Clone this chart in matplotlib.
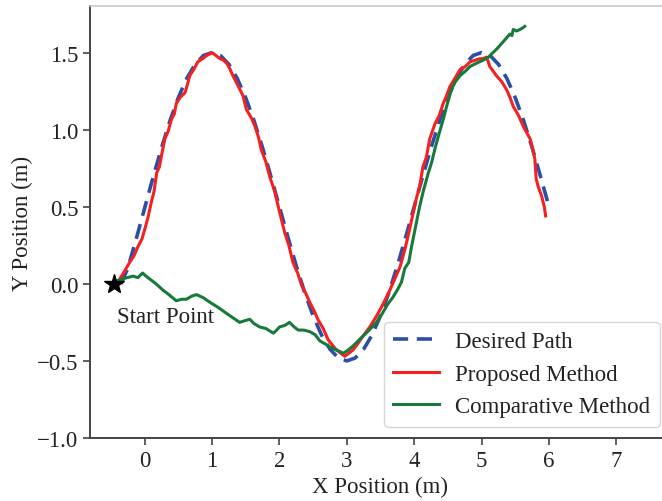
import matplotlib
matplotlib.use("Agg")
import matplotlib.pyplot as plt

# Desired path
desired_x = [-0.35, -0.25, -0.125, 0.0, 0.125, 0.25, 0.375, 0.5, 0.625, 0.75, 0.875, 1.0,
             1.125, 1.25, 1.375, 1.5, 1.625, 1.75, 1.875, 2.0, 2.125, 2.25, 2.375, 2.5,
             2.625, 2.75, 2.875, 3.0, 3.125, 3.25, 3.375, 3.5, 3.625, 3.75, 3.875, 4.0,
             4.125, 4.25, 4.375, 4.5, 4.625, 4.75, 4.875, 5.0, 5.125, 5.25, 5.375, 5.5,
             5.625, 5.75, 5.875, 6.0]
desired_y = [0.0, 0.10, 0.29, 0.49, 0.69, 0.88, 1.056, 1.207, 1.332, 1.424, 1.481, 1.5,
             1.481, 1.424, 1.332, 1.207, 1.056, 0.883, 0.695, 0.5, 0.305, 0.117, -0.056, -0.207,
             -0.332, -0.424, -0.481, -0.5, -0.481, -0.424, -0.332, -0.207, -0.056, 0.117, 0.305, 0.5,
             0.695, 0.883, 1.056, 1.207, 1.332, 1.424, 1.481, 1.5, 1.481, 1.424, 1.332, 1.207,
             1.056, 0.883, 0.695, 0.5]

# Proposed method
proposed_x = [-0.45, -0.37, -0.30, -0.22, -0.16, -0.10, -0.04, 0.0, 0.05, 0.10, 0.14, 0.18, 0.22,
              0.25, 0.30, 0.35, 0.40, 0.44, 0.47, 0.53, 0.60, 0.64, 0.67, 0.73, 0.79, 0.86,
              0.92, 1.0, 1.06, 1.12, 1.17, 1.22, 1.27, 1.31, 1.38, 1.46, 1.51, 1.58, 1.64,
              1.69, 1.73, 1.80, 1.86, 1.93, 2.0, 2.08, 2.14, 2.20, 2.27, 2.33, 2.39, 2.45,
              2.51, 2.57, 2.65, 2.72, 2.79, 2.85, 2.91, 2.97, 3.03, 3.09, 3.16, 3.24, 3.34,
              3.44, 3.54, 3.64, 3.72, 3.79, 3.86, 3.93, 3.98, 4.03, 4.08, 4.13, 4.18, 4.23,
              4.31, 4.37, 4.43, 4.48, 4.53, 4.60, 4.68, 4.76, 4.83, 4.90, 4.97, 5.02, 5.07,
              5.10, 5.12, 5.17, 5.22, 5.30, 5.37, 5.42, 5.47, 5.55, 5.62, 5.67, 5.72, 5.76,
              5.79, 5.81, 5.84, 5.89, 5.93, 5.95]
proposed_y = [0.0, 0.03, 0.08, 0.14, 0.18, 0.24, 0.29, 0.35, 0.43, 0.53, 0.60, 0.72, 0.76,
              0.83, 0.94, 0.99, 1.07, 1.10, 1.17, 1.21, 1.24, 1.30, 1.35, 1.39, 1.44, 1.46,
              1.48, 1.50, 1.48, 1.46, 1.45, 1.43, 1.39, 1.35, 1.29, 1.22, 1.13, 1.08, 1.02,
              0.95, 0.87, 0.79, 0.69, 0.60, 0.47, 0.33, 0.25, 0.14, 0.07, -0.01, -0.06, -0.12,
              -0.17, -0.23, -0.29, -0.36, -0.40, -0.43, -0.45, -0.47, -0.45, -0.43, -0.39, -0.34, -0.28,
              -0.21, -0.13, -0.04, 0.04, 0.11, 0.22, 0.35, 0.45, 0.55, 0.63, 0.76, 0.82, 0.94,
              1.04, 1.09, 1.17, 1.22, 1.28, 1.33, 1.39, 1.41, 1.44, 1.45, 1.46, 1.46, 1.47,
              1.44, 1.41, 1.38, 1.35, 1.31, 1.26, 1.21, 1.15, 1.09, 1.02, 0.98, 0.94, 0.87,
              0.81, 0.68, 0.63, 0.57, 0.50, 0.44]

# Comparative method
comparative_x = [-0.45, -0.40, -0.34, -0.26, -0.17, -0.10, -0.03, 0.02, 0.08, 0.17, 0.27, 0.36,
                 0.47, 0.55, 0.62, 0.70, 0.77, 0.87, 0.97, 1.08, 1.21, 1.31, 1.41, 1.48, 1.56,
                 1.63, 1.71, 1.80, 1.91, 1.96, 2.0, 2.08, 2.15, 2.22, 2.28, 2.36, 2.45, 2.53,
                 2.60, 2.68, 2.75, 2.85, 2.95, 3.02, 3.10, 3.19, 3.31, 3.44, 3.53, 3.61, 3.68,
                 3.75, 3.81, 3.86, 3.92, 3.96, 4.02, 4.08, 4.14, 4.21, 4.26, 4.31, 4.36, 4.40,
                 4.44, 4.48, 4.52, 4.55, 4.61, 4.68, 4.76, 4.83, 4.92, 5.02, 5.10, 5.17, 5.24,
                 5.30, 5.36, 5.42, 5.45, 5.47, 5.52, 5.57, 5.61, 5.64]
comparative_y = [0.0, 0.02, 0.03, 0.04, 0.05, 0.04, 0.07, 0.05, 0.03, 0.0, -0.04, -0.07,
                 -0.11, -0.10, -0.10, -0.08, -0.07, -0.09, -0.12, -0.15, -0.19, -0.22, -0.25, -0.24, -0.23,
                 -0.26, -0.28, -0.29, -0.32, -0.30, -0.28, -0.27, -0.25, -0.28, -0.30, -0.30, -0.31, -0.33,
                 -0.37, -0.39, -0.41, -0.43, -0.45, -0.43, -0.40, -0.36, -0.31, -0.25, -0.19, -0.13, -0.09,
                 -0.04, 0.01, 0.10, 0.14, 0.24, 0.37, 0.50, 0.61, 0.72, 0.79, 0.88, 0.96, 1.02,
                 1.08, 1.15, 1.21, 1.26, 1.31, 1.35, 1.38, 1.41, 1.43, 1.45, 1.47, 1.50, 1.53,
                 1.56, 1.59, 1.62, 1.61, 1.65, 1.64, 1.65, 1.66, 1.67]

start_x = [-0.45]
start_y = [0.0]

xticks = [0, 1, 2, 3, 4, 5, 6, 7]
yticks = [-1.0, -0.5, 0.0, 0.5, 1.0, 1.5]

plt.rcParams['font.family'] = ['Liberation Serif', 'DejaVu Serif']
FS = 16.5

fig = plt.figure(figsize=(6.62, 5.02), dpi=100)
ax = fig.add_axes([90 / 662, 63 / 502, (671 - 90) / 662, (439 - 7.3) / 502])

ax.plot(desired_x, desired_y, color='#2b4ea6', lw=2.6, ls=(0, (4.2, 2.4)), label='Desired Path', zorder=2)
ax.plot(proposed_x, proposed_y, color='#f52020', lw=2.2, label='Proposed Method', zorder=3)
ax.plot(comparative_x, comparative_y, color='#187a3a', lw=2.2, label='Comparative Method', zorder=4)
ax.plot(start_x, start_y, marker='*', color='black', ms=15, ls='none', zorder=5)
ax.text(-0.41, -0.21, 'Start Point', fontsize=FS, va='center', ha='left', color='#222222')

ax.set_xlim(-0.81, 7.81)
ax.set_ylim(-1.0, 1.80)
ax.set_xticks(xticks)
ax.set_yticks(yticks)
ax.set_xticklabels([str(t) for t in xticks])
ax.set_yticklabels(['\u22121.0', '\u22120.5', '0.0', '0.5', '1.0', '1.5'])
ax.tick_params(labelsize=FS, length=5, width=1.2, color='#444444', labelcolor='#222222', direction='out')

for s in ['left', 'bottom']:
    ax.spines[s].set_color('#444444')
    ax.spines[s].set_linewidth(1.4)
ax.spines['top'].set_color('#c8c8c8')
ax.spines['top'].set_linewidth(1.2)
ax.spines['right'].set_visible(False)

ax.set_xlabel('X Position (m)', fontsize=FS, color='#222222', labelpad=4)
ax.set_ylabel('Y Position (m)', fontsize=FS, color='#222222', labelpad=3)

leg = ax.legend(loc='lower right', fontsize=FS, frameon=True, fancybox=True,
                borderaxespad=0.5, handlelength=2.0, labelspacing=0.5, handletextpad=0.7)
leg.get_frame().set_edgecolor('#cccccc')
leg.get_frame().set_linewidth(1.0)
for t in leg.get_texts():
    t.set_color('#222222')

fig.savefig('out.png', dpi=100)
